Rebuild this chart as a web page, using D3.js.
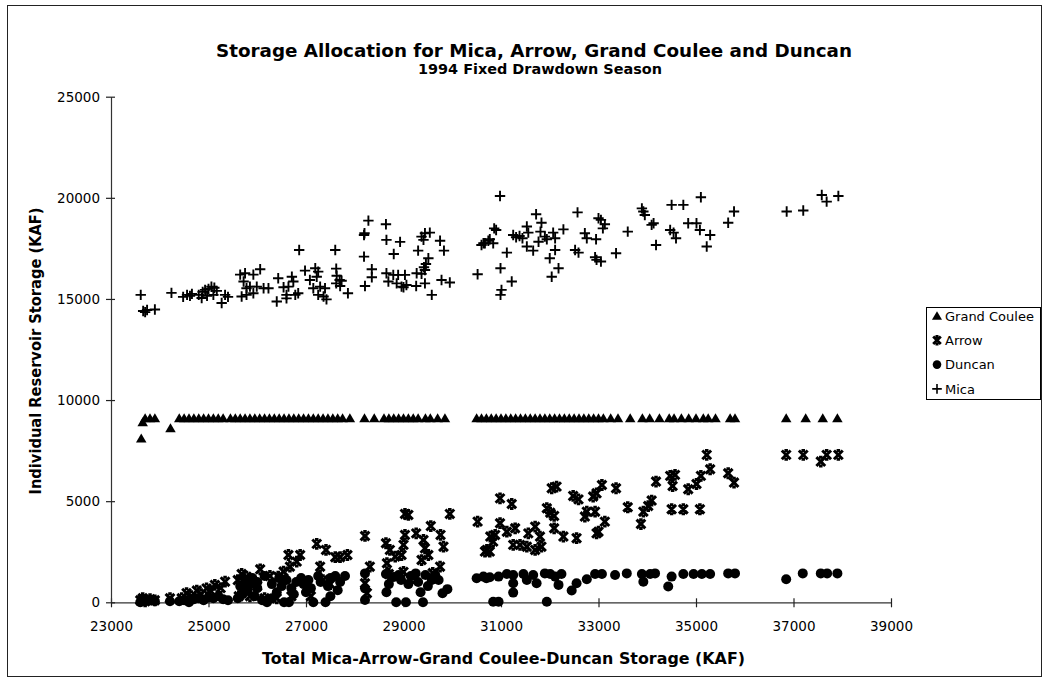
<!DOCTYPE html>
<html><head><meta charset="utf-8">
<script src="https://cdn.jsdelivr.net/npm/d3@7"></script>
<style>
html,body{margin:0;padding:0;background:#fff;}
text{font-family:"DejaVu Sans","Liberation Sans",Arial,sans-serif;fill:#000;}
</style></head>
<body><svg id="c" width="1044" height="678"></svg>
<script>
const chartTitle = "Storage Allocation for Mica, Arrow, Grand Coulee and Duncan";
const chartSubtitle = "1994 Fixed Drawdown Season";
const xTitle = "Total Mica-Arrow-Grand Coulee-Duncan Storage (KAF)";
const yTitle = "Individual Reservoir Storage (KAF)";
const xTicks = [23000,25000,27000,29000,31000,33000,35000,37000,39000];
const yTicks = [0,5000,10000,15000,20000,25000];
const seriesNames = ["Grand Coulee","Arrow","Duncan","Mica"];

const grandCoulee = [[23620,8100],[23650,8900],[23700,9100],[23800,9100],[23900,9100],[24220,8600],
[24400,9100],[24500,9100],[24600,9100],[24700,9100],[24800,9100],[24900,9100],[25000,9100],[25100,9100],[25200,9100],[25300,9100],[25450,9100],
[25550,9100],[25650,9100],[25750,9100],[25850,9100],[25950,9100],[26050,9100],[26150,9100],[26250,9100],[26350,9100],[26450,9100],[26550,9100],[26650,9100],
[26750,9100],[26850,9100],[26950,9100],[27050,9100],[27150,9100],[27250,9100],[27350,9100],[27450,9100],[27550,9100],[27650,9100],[27750,9100],[27900,9100],
[28200,9100],[28400,9100],
[28600,9100],[28700,9100],[28800,9100],[28900,9100],[29000,9100],[29100,9100],[29200,9100],[29300,9100],[29450,9100],[29550,9100],[29700,9100],[29850,9100],
[30500,9100],[30600,9100],[30700,9100],[30800,9100],[30900,9100],[31000,9100],[31100,9100],[31200,9100],[31300,9100],[31400,9100],[31500,9100],[31600,9100],
[31700,9100],[31800,9100],[31900,9100],[32000,9100],[32100,9100],[32200,9100],[32300,9100],[32400,9100],[32500,9100],[32600,9100],[32700,9100],[32800,9100],
[32900,9100],[33000,9100],[33100,9100],[33250,9100],
[33400,9100],[33650,9100],[33900,9100],[34050,9100],[34250,9100],
[34450,9100],[34550,9100],[34700,9100],[34850,9100],[35000,9100],[35150,9100],[35250,9100],[35400,9100],
[35700,9100],[35800,9100],[36850,9100],[37250,9100],[37600,9100],[37900,9100]];

const arrow = [[23600,100],[23650,200],[23700,50],[23800,150],[23900,100],
[24210,200],[24450,200],[24550,450],[24650,300],[24760,580],[24850,400],[24960,690],[25050,550],[25130,860],[25250,700],[25340,1020],
[25600,1100],[25680,1400],[25780,1270],[25900,1000],[26060,1630],[26260,1300],[26430,1270],[26540,1520],[26670,1760],[26640,2340],[26880,2340],[26810,2010],
[27220,2890],[27410,2590],[27600,2230],[27700,2230],[27850,2340],[27290,1760],[27010,690],
[25620,300],[25750,600],[25850,300],[26000,800],[26150,200],[26400,200],[26700,300],[27100,300],[27350,1100],[27500,900],
[28210,3280],[28310,1760],[28210,940],[28250,450],
[28700,1400],[29000,1500],[29200,1200],[29600,1450],
[28640,2920],[28720,2590],[28830,2260],[28660,1930],[29030,4370],[29100,4320],[29030,3330],[29000,2840],[28960,2340],[29260,3410],[29410,3080],[29440,2670],
[29510,2340],[29370,2090],[29560,3770],[29760,3330],[29820,2750],[29950,4370],[29750,1760],
[30520,3990],[30670,2510],[30780,3250],
[30980,5140],[31220,4860],[30880,3330],[30840,3000],[30980,3910],[31120,3490],[31290,3660],[30710,2590],[30770,2510],
[31250,2840],[31390,2840],[31530,2750],[31700,2590],[31830,2750],[31560,3410],[31700,3740],[31800,3250],
[31940,4650],[32010,4430],[32090,4270],[32040,5640],[32140,5720],[32090,3660],[32280,3250],[32480,5260],[32590,5090],[32550,3170],
[32720,4240],[32760,4480],[32930,4480],[33130,3990],[33000,3490],[32960,3410],[32890,5230],[32960,5390],[33070,5800],[33360,5640],[33600,4700],
[33870,3870],[33920,4480],[34020,4760],[34090,5030],[34180,5970],[34470,6250],[34570,6300],[34520,5750],[34500,4600],[34740,4600],[35080,4600],
[34840,5590],[35010,5850],[35100,6250],[35290,6580],[35220,7290],[35660,6380],[35780,5920],[36850,7290],[37200,7290],[37560,6960],[37680,7290],[37920,7290]];

const duncan = [[23600,0],[23650,150],[23700,50],[23800,100],[23900,50],[24210,50],
[24400,50],[24500,100],[24600,0],[24700,150],[24800,200],[24900,100],[25000,250],[25100,200],[25200,300],[25300,150],[25400,100],
[25600,200],[25700,400],[25800,600],[25850,900],[25950,300],[26000,700],[26100,100],[26200,0],[26300,200],[26400,500],[26500,800],[26550,0],[26650,0],
[26750,400],[26800,1000],[26900,1200],[27000,500],[27050,1100],[27150,0],[27250,1300],[27400,0],[27500,1200],[27600,1300],[27700,1000],[27500,300],
[25650,800],[25750,1100],[25900,1200],[26000,1000],[26150,1300],[26300,900],[26450,1200],[26600,1100],[26700,700],[26950,900],[27100,700],[27300,1000],
[27450,800],[27650,600],[27800,1300],
[28210,1430],[28210,690],[28210,110],[28640,1400],[28800,1250],[28950,1100],[29100,900],[29250,1430],[29450,1350],[29580,1100],[29720,1100],[29900,650],
[29800,450],[28850,0],[29050,0],[29400,0],
[28700,900],[28900,1350],[29150,1300],[29300,1000],[29350,500],[29500,800],[29650,1350],[28650,500],
[30500,1190],[30700,1190],[30640,1270],[30770,1240],[30950,1270],[30840,30],[30950,30],
[31120,1400],[31250,1350],[31250,940],[31250,480],[31460,1400],[31530,1100],[31660,1350],[31730,940],[31900,1430],[32010,1400],[32110,1270],[32180,860],[32240,1400],[31940,30],
[32450,580],[32550,940],[32760,1140],[32930,1400],[33070,1400],[33340,1350],[33580,1430],[33890,1400],[33920,1020],[34060,1400],[34160,1430],
[34430,780],[34500,1270],[34740,1400],[34950,1400],[35120,1400],[35290,1400],[35660,1430],[35800,1430],[36850,1140],[37190,1430],[37560,1430],[37690,1430],[37900,1430]];

const mica = [[23610,15200],[23660,14400],[23700,14350],[23740,14450],[23900,14480],[24240,15300],
[24480,15100],[24560,15200],[24620,15150],[24660,15250],[24800,15200],[24880,15350],[24930,15450],[25000,15500],[25060,15600],[25120,15550],[25170,15400],[25100,15200],[24970,15150],[24860,15050],
[25270,14800],[25340,15200],[25400,15100],
[25650,16200],[25750,16270],[25920,16200],[26060,16470],[25720,15860],[25780,15530],[25850,15610],[25990,15610],[26130,15530],[25680,15120],[25780,15200],[25920,15280],[26230,15530],
[26430,16020],[26540,15580],[26640,15610],[26710,16100],[26740,15860],[26600,15200],[26780,15200],[26840,15280],[26400,14870],[26600,15030],
[26860,17420],
[26980,16400],[27080,15940],[27190,16520],[27250,16350],[27220,16100],[27150,15530],[27290,15610],[27390,15530],[27250,15200],[27360,15120],[27420,14980],
[27600,17420],[27620,16500],[27630,16150],[27690,15940],[27730,15900],[27620,15770],[27700,15640],[27860,15280],
[28190,18160],[28200,18250],[28280,18870],[28190,17090],[28350,16470],[28350,16070],[28210,15640],
[28640,18690],[28650,17920],[28930,17820],[28800,17220],
[28650,16270],[28790,16190],[28890,16190],[29030,16190],[28690,15860],[28860,15770],[28960,15610],[29060,15690],[29000,15580],
[29300,17390],[29370,18080],[29440,18250],[29540,18280],[29410,17920],[29270,16270],[29370,16240],[29440,16430],[29510,17010],[29460,16730],[29420,16570],[29440,15770],[29260,15640],[29580,15200],
[29750,17880],[29830,17390],[29780,15940],[29950,15810],
[30520,16220],[30600,17670],[30640,17750],[30740,17880],[30670,17750],[30840,17750],[30770,17950],
[30980,20090],[30860,18490],[30900,18410],[31120,17290],[30990,16520],[31220,15860],[31010,15450],[30990,15200],
[31250,18160],[31310,18050],[31380,18110],[31440,18000],[31530,18580],[31560,18280],
[31720,19190],[31830,18770],[31810,18330],[31530,17590],[31660,17390],[31770,17830],
[31900,18080],[32070,18280],[32110,18000],[32110,17420],[32000,17010],[32180,16520],[32040,16100],[31940,17950],
[32280,18440],[32570,19280],[32520,17420],[32590,17290],
[32720,18250],[32760,18000],[32950,17950],[33000,18990],[33050,18910],[33130,18690],[33090,18490],[32930,17060],[32960,16930],[33050,16850],
[33360,17260],[33600,18330],[33890,19480],[33920,19320],[33950,19150],[34090,18660],[34130,18740],[34180,17670],
[34470,18410],[34540,18280],[34590,18000],[34500,19650],[34740,19650],[35100,20030],
[34840,18740],[35010,18740],[35080,18410],[35290,18160],[35220,17590],
[35660,18770],[35780,19320],[36860,19320],[37200,19370],[37580,20140],[37680,19810],[37920,20090]];

const svg = d3.select("#c");
// outer frame
svg.append("rect").attr("x",7.5).attr("y",5.5).attr("width",1034).attr("height",671)
  .attr("fill","none").attr("stroke","#222").attr("stroke-width",1);

const x = d3.scaleLinear().domain([23000,39000]).range([111,891]);
const y = d3.scaleLinear().domain([0,25000]).range([602.3,96.7]);

// titles
svg.append("text").attr("x",534).attr("y",57).attr("text-anchor","middle")
  .attr("font-weight","bold").attr("font-size",17).attr("textLength",636).attr("lengthAdjust","spacingAndGlyphs").text(chartTitle);
svg.append("text").attr("x",540).attr("y",74).attr("text-anchor","middle")
  .attr("font-weight","bold").attr("font-size",14).attr("textLength",244).attr("lengthAdjust","spacingAndGlyphs").text(chartSubtitle);
svg.append("text").attr("x",503.5).attr("y",664).attr("text-anchor","middle")
  .attr("font-weight","bold").attr("font-size",16).attr("textLength",483).attr("lengthAdjust","spacingAndGlyphs").text(xTitle);
svg.append("text").attr("transform","translate(41,351) rotate(-90)").attr("text-anchor","middle")
  .attr("font-weight","bold").attr("font-size",16).attr("textLength",287).attr("lengthAdjust","spacingAndGlyphs").text(yTitle);

// axes
const xAxis = svg.append("g").attr("transform","translate(0,602.3)")
  .call(d3.axisBottom(x).tickValues(xTicks).tickFormat(d3.format("d")).tickSizeOuter(0).tickSizeInner(4));
const yAxis = svg.append("g").attr("transform","translate(111,0)")
  .call(d3.axisLeft(y).tickValues(yTicks).tickFormat(d3.format("d")).tickSizeOuter(0).tickSizeInner(4));
[xAxis,yAxis].forEach(g=>{
  g.select(".domain").attr("stroke","#333").attr("stroke-width",1.2);
  g.selectAll(".tick line").attr("stroke","#222").attr("stroke-width",1.2);
  g.selectAll(".tick text").attr("font-family","DejaVu Sans, sans-serif").attr("font-size",13.5).attr("fill","#000");
});
xAxis.selectAll(".tick line").attr("y1",-4).attr("y2",5);
xAxis.selectAll(".tick text").attr("y",19);
yAxis.selectAll(".tick line").attr("x1",4).attr("x2",-5);
yAxis.selectAll(".tick text").attr("x",-11);

// marker generators
function triPath(s){return `M0,${-s} L${s*1.05},${s*0.8} L${-s*1.05},${s*0.8} Z`;}
function plusPath(s){return `M${-s},0 L${s},0 M0,${-s} L0,${s}`;}
function starPath(s){return `M${-s},${-s} L${s},${s} M${s},${-s} L${-s},${s} M${-s*0.4},${-s} L${s*0.4},${-s} M${-s*0.4},${s} L${s*0.4},${s}`;}

const plot = svg.append("g");
function drawSeries(data, kind){
  const g = plot.append("g");
  if(kind==="circle"){
    g.selectAll("circle").data(data).join("circle")
      .attr("cx",d=>x(d[0])).attr("cy",d=>y(d[1])).attr("r",5).attr("fill","#000");
  } else if(kind==="tri"){
    g.selectAll("path").data(data).join("path")
      .attr("transform",d=>`translate(${x(d[0])},${y(d[1])})`).attr("d",triPath(5)).attr("fill","#000");
  } else if(kind==="plus"){
    g.selectAll("path").data(data).join("path")
      .attr("transform",d=>`translate(${x(d[0])},${y(d[1])})`).attr("d",plusPath(5.2))
      .attr("stroke","#000").attr("stroke-width",1.9).attr("fill","none");
  } else {
    g.selectAll("path").data(data).join("path")
      .attr("transform",d=>`translate(${x(d[0])},${y(d[1])})`).attr("d",starPath(4.4))
      .attr("stroke","#000").attr("stroke-width",3).attr("fill","none");
  }
}
drawSeries(duncan,"circle");
drawSeries(arrow,"star");
drawSeries(grandCoulee,"tri");
drawSeries(mica,"plus");

// legend
const lg = svg.append("g");
lg.append("rect").attr("x",926.5).attr("y",307.5).attr("width",114).attr("height",92)
  .attr("fill","#fff").attr("stroke","#000").attr("stroke-width",1);
const kinds = ["tri","star","circle","plus"];
seriesNames.forEach((n,i)=>{
  const cy = 316 + i*24.3;
  const k = kinds[i];
  if(k==="circle") lg.append("circle").attr("cx",937).attr("cy",cy).attr("r",4.3).attr("fill","#000");
  else if(k==="tri") lg.append("path").attr("transform",`translate(937,${cy})`).attr("d",triPath(4.8)).attr("fill","#000");
  else if(k==="plus") lg.append("path").attr("transform",`translate(937,${cy})`).attr("d",plusPath(4.8)).attr("stroke","#000").attr("stroke-width",1.6);
  else lg.append("path").attr("transform",`translate(937,${cy})`).attr("d",starPath(3.8)).attr("stroke","#000").attr("stroke-width",2.8);
  lg.append("text").attr("x",945).attr("y",cy+4.8).attr("font-size",13).text(n);
});
</script></body></html>
